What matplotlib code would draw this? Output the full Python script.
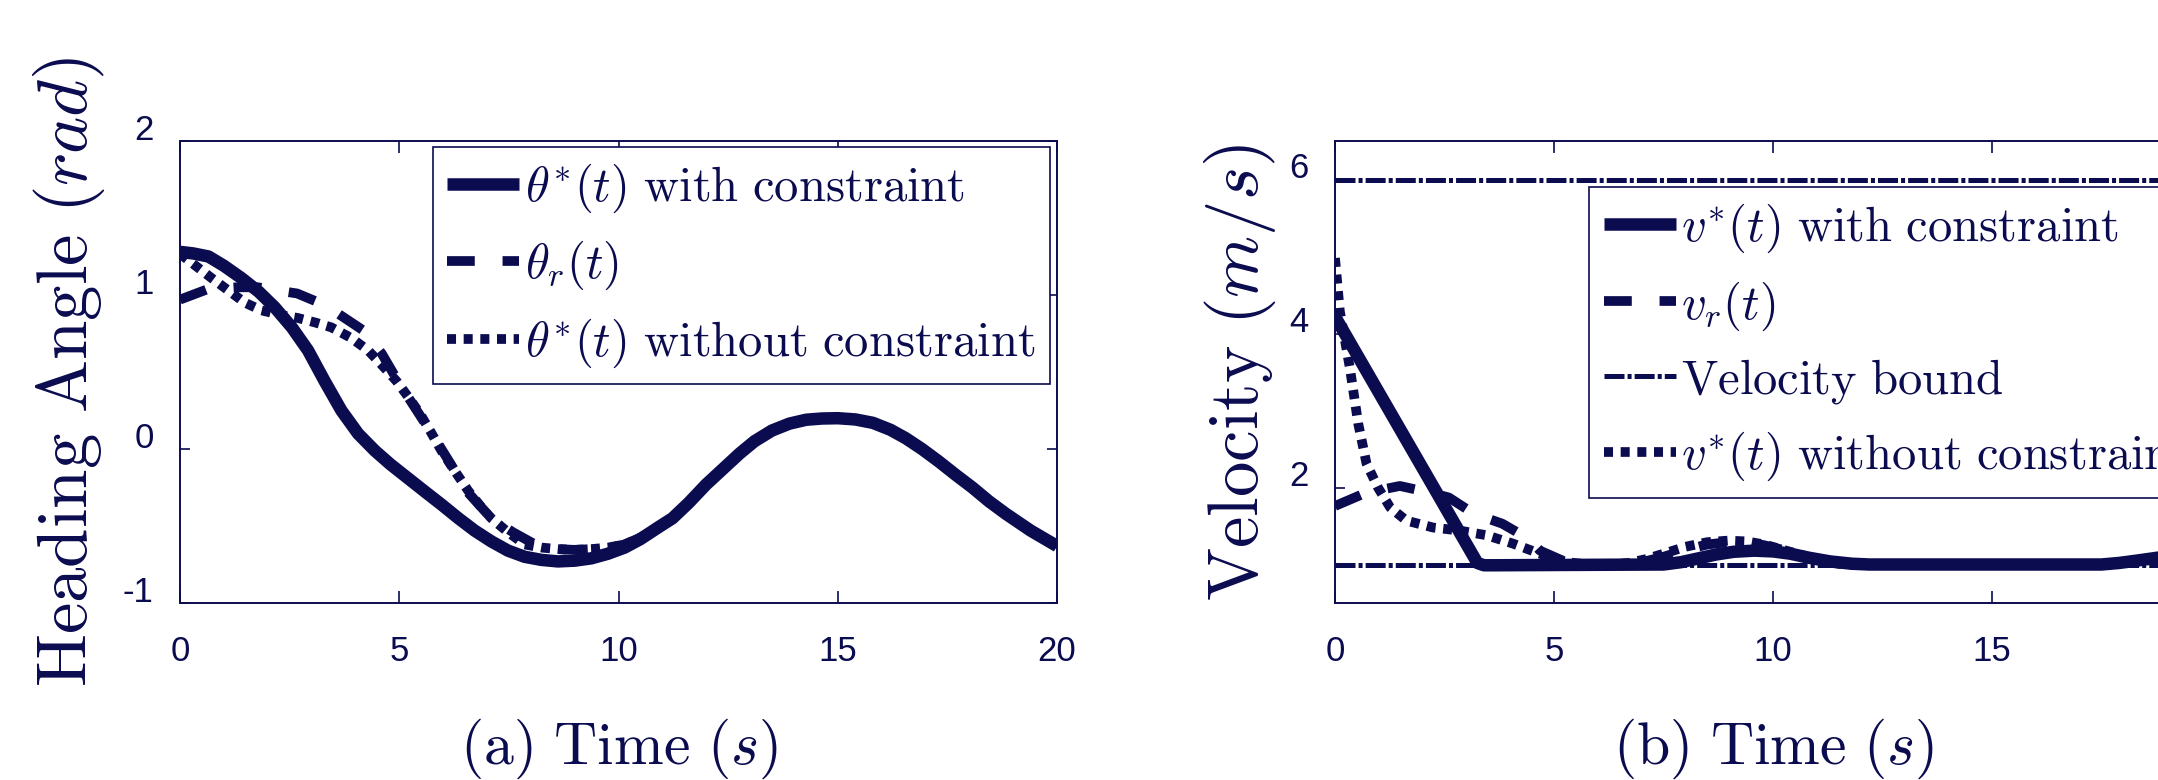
import matplotlib
matplotlib.use("Agg")
import matplotlib.pyplot as plt
from matplotlib.transforms import ScaledTranslation

NAVY = "#0b0b50"
plt.rcParams["mathtext.fontset"] = "cm"
plt.rcParams["font.family"] = ["Liberation Sans", "DejaVu Sans"]
plt.rcParams["lines.scale_dashes"] = False
plt.rcParams["axes.unicode_minus"] = False

# ---- (a) heading angle ----
t_con = [0.0, 0.3, 0.65, 1.0, 1.4, 1.8, 2.16, 2.55, 2.92, 3.3, 3.68, 4.06, 4.44, 4.8,
         5.2, 5.6, 5.96, 6.35, 6.72, 7.1, 7.48, 7.86, 8.24, 8.62, 9.0, 9.38, 9.76,
         10.14, 10.5, 10.9, 11.23, 11.6, 12.0, 12.38, 12.76, 13.1, 13.5, 13.9, 14.28,
         14.64, 15.0, 15.4, 15.8, 16.2, 16.55, 16.92, 17.3, 17.7, 18.07, 18.45, 18.83,
         19.4, 20.0]
theta_con = [1.28, 1.27, 1.25, 1.19, 1.11, 1.02, 0.92, 0.79, 0.64, 0.44, 0.25, 0.10,
             -0.01, -0.10, -0.19, -0.28, -0.36, -0.45, -0.53, -0.60, -0.66, -0.70,
             -0.72, -0.73, -0.725, -0.71, -0.68, -0.64, -0.585, -0.51, -0.45, -0.35,
             -0.23, -0.13, -0.03, 0.05, 0.12, 0.165, 0.19, 0.198, 0.20, 0.192, 0.17,
             0.125, 0.07, 0.0, -0.08, -0.17, -0.25, -0.34, -0.42, -0.53, -0.63]

t_ref = [0.0, 0.65, 1.3, 1.78, 2.2, 2.67, 3.26, 3.6, 4.18, 4.6, 4.97, 5.4, 5.81, 6.2,
         6.56, 7.1, 7.59, 8.1, 8.6, 9.0, 9.38, 9.76, 10.14, 10.5, 10.9, 11.23, 11.6,
         12.0, 12.38, 12.76, 13.1, 13.5, 13.9, 14.28, 14.64, 15.0, 15.4, 15.8, 16.2,
         16.55, 16.92, 17.3, 17.7, 18.07, 18.45, 18.83, 19.4, 20.0]
theta_ref = [0.97, 1.04, 1.05, 1.05, 1.03, 1.01, 0.94, 0.88, 0.77, 0.62, 0.44, 0.25,
             0.07, -0.11, -0.28, -0.45, -0.54, -0.62, -0.65, -0.655, -0.65, -0.64,
             -0.62, -0.575, -0.51, -0.45, -0.35, -0.23, -0.13, -0.03, 0.05, 0.12, 0.165,
             0.19, 0.198, 0.20, 0.192, 0.17, 0.125, 0.07, 0.0, -0.08, -0.17, -0.25,
             -0.34, -0.42, -0.53, -0.63]

t_free = [0.0, 0.08, 0.4, 0.72, 1.1, 1.48, 1.86, 2.3, 2.7, 3.1, 3.45, 3.91, 4.29, 4.59,
          4.94, 5.2, 5.47, 5.72, 5.96, 6.26, 6.57, 6.85, 7.1, 7.48, 7.86, 8.24, 8.62,
          9.0, 9.38, 9.76, 10.14, 10.5, 10.9, 11.23, 11.6, 12.0, 12.38, 12.76, 13.1,
          13.5, 13.9, 14.28, 14.64, 15.0, 15.4, 15.8, 16.2, 16.55, 16.92, 17.3, 17.7,
          18.07, 18.45, 18.83, 19.4, 20.0]
theta_free = [1.27, 1.25, 1.18, 1.11, 1.03, 0.95, 0.90, 0.87, 0.85, 0.82, 0.79, 0.72,
              0.64, 0.55, 0.44, 0.34, 0.23, 0.11, -0.01, -0.14, -0.27, -0.37, -0.45,
              -0.54, -0.62, -0.64, -0.65, -0.655, -0.65, -0.64, -0.62, -0.575, -0.51,
              -0.45, -0.35, -0.23, -0.13, -0.03, 0.05, 0.12, 0.165, 0.19, 0.198, 0.20,
              0.192, 0.17, 0.125, 0.07, 0.0, -0.08, -0.17, -0.25, -0.34, -0.42, -0.53,
              -0.63]

# ---- (b) velocity ----
tv_con = [0.0, 3.25, 3.4, 3.6, 7.5, 7.9, 8.3, 8.7, 9.1, 9.57, 10.0, 10.4, 10.8, 11.3,
          11.8, 12.2, 17.5, 17.9, 18.3, 18.8, 19.4, 20.0]
v_con = [4.22, 1.02, 0.99, 0.99, 1.0, 1.03, 1.08, 1.13, 1.165, 1.18, 1.17, 1.14, 1.09,
         1.04, 1.01, 1.0, 1.0, 1.02, 1.05, 1.09, 1.15, 1.22]

tv_ref = [0.0, 0.7, 1.48, 2.2, 2.6, 3.17, 3.82, 4.43, 4.68, 5.2, 5.8, 6.5, 7.0, 7.5,
          8.0, 8.5, 8.97, 9.4, 9.8, 10.3, 10.8, 11.2, 11.6, 17.5, 17.9, 18.3, 18.8,
          19.4, 20.0]
v_ref = [1.76, 1.93, 2.02, 1.93, 1.87, 1.66, 1.53, 1.33, 1.18, 1.05, 1.0, 1.0, 1.03,
         1.1, 1.19, 1.26, 1.29, 1.29, 1.25, 1.18, 1.1, 1.04, 1.0, 1.0, 1.02, 1.05, 1.09,
         1.15, 1.22]

tv_free = [0.0, 0.11, 0.34, 0.53, 0.72, 0.98, 1.26, 1.63, 2.24, 2.85, 3.46, 4.07, 4.68,
           5.3, 5.8, 6.3, 6.7, 7.1, 7.5, 8.0, 8.5, 8.97, 9.4, 9.8, 10.3, 10.8, 11.2,
           11.6, 17.5, 17.9, 18.3, 18.8, 19.4, 20.0]
v_free = [4.98, 4.29, 3.55, 2.83, 2.31, 2.0, 1.74, 1.57, 1.48, 1.44, 1.38, 1.27, 1.14,
          1.03, 1.0, 1.0, 1.02, 1.07, 1.14, 1.23, 1.29, 1.31, 1.30, 1.26, 1.18, 1.1,
          1.04, 1.0, 1.0, 1.02, 1.05, 1.09, 1.15, 1.22]

t_bound = [0, 20]
v_upper = [6, 6]
v_lower = [1, 1]

SOLID = dict(color=NAVY, lw=9, solid_capstyle="butt")
DASHED = dict(color=NAVY, lw=7, dashes=(20, 20))
DOTTED = dict(color=NAVY, lw=7, dashes=(6.5, 5.5))
DASHDOT = dict(color=NAVY, lw=3.6, dashes=(14.4, 2.2, 2.9, 2.2))

fig = plt.figure(figsize=(21.58, 7.8), dpi=100)
ax1 = fig.add_axes([180 / 2158, 177 / 780, 877 / 2158, 462 / 780])
ax2 = fig.add_axes([1335 / 2158, 177 / 780, 876 / 2158, 462 / 780])

ax1.plot(t_con, theta_con, label=r"$\theta^{*}(t)\ \mathrm{with\ constraint}$", **SOLID)
ax1.plot(t_ref, theta_ref, label=r"$\theta_{r}(t)$", **DASHED)
ax1.plot(t_free, theta_free, label=r"$\theta^{*}(t)\ \mathrm{without\ constraint}$", **DOTTED)

ax2.plot(tv_con, v_con, label=r"$v^{*}(t)\ \mathrm{with\ constraint}$", **SOLID)
ax2.plot(tv_ref, v_ref, label=r"$v_{r}(t)$", **DASHED)
ax2.plot(t_bound, v_upper, label=r"$\mathrm{Velocity\ bound}$", **DASHDOT)
ax2.plot(tv_free, v_free, label=r"$v^{*}(t)\ \mathrm{without\ constraint}$", **DOTTED)
ax2.plot(t_bound, v_lower, **DASHDOT)

for ax in (ax1, ax2):
    ax.set_xlim(0, 20)
    for s in ax.spines.values():
        s.set_color(NAVY)
        s.set_linewidth(1.4)
    ax.tick_params(direction="in", top=True, right=True, colors=NAVY, labelsize=25,
                   width=1.2)
    ax.tick_params(axis="x", length=8.5, pad=23)
    ax.tick_params(axis="y", length=7, pad=19)

ax1.set_xticks([0, 5, 10, 15, 20])
ax2.set_xticks([0, 5, 10, 15])   # the 20 label of (b) lies beyond the cropped edge
ax1.set_ylim(-1, 2)
ax1.set_yticks([-1, 0, 1, 2])
ax2.set_ylim(0.5, 6.5)
ax2.set_yticks([2, 4, 6])

ax1.set_ylabel(r"$\mathrm{Heading\ Angle}\ (rad)$", fontsize=51, color=NAVY)
ax1.yaxis.set_label_coords(-0.083, 0.5)
ax2.set_ylabel(r"$\mathrm{Velocity}\ (m/s)$", fontsize=51, color=NAVY)
ax2.yaxis.set_label_coords(-0.065, 0.5)
ax1.set_xlabel(r"$\mathrm{(a)\ Time}\ (s)$", fontsize=43, color=NAVY)
ax1.xaxis.set_label_coords(0.5, -0.245)
ax2.set_xlabel(r"$\mathrm{(b)\ Time}\ (s)$", fontsize=43, color=NAVY)
ax2.xaxis.set_label_coords(0.5, -0.245)

leg_kw = dict(loc="upper right", fontsize=35, frameon=True, fancybox=False,
              framealpha=1, edgecolor=NAVY, borderaxespad=0, handlelength=1.48,
              handletextpad=0.12, borderpad=0.3, labelspacing=0.5, labelcolor=NAVY)
l1 = ax1.legend(bbox_to_anchor=(0.992, 0.987), **leg_kw)
l2 = ax2.legend(bbox_to_anchor=(0.992, 0.900), **leg_kw)
for lg in (l1, l2):
    lg.get_frame().set_linewidth(1.2)

# y tick labels sit a little above their ticks in the original
shift = ScaledTranslation(0, 0.14, fig.dpi_scale_trans)
for ax in (ax1, ax2):
    for lab in ax.get_yticklabels():
        lab.set_transform(lab.get_transform() + shift)

fig.savefig("out.png", dpi=100)
